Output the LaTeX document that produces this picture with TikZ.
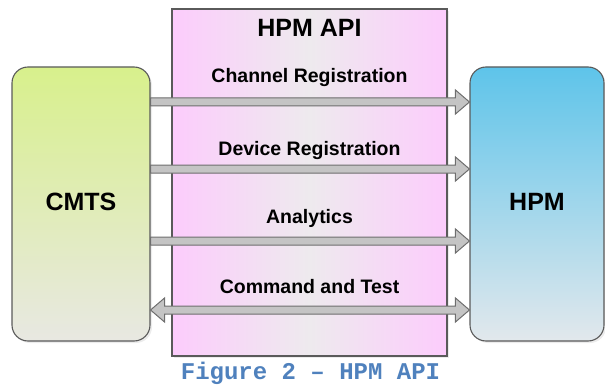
\documentclass[tikz,border=0pt]{standalone}
\usepackage{fontspec}
\setmainfont{Liberation Sans}
\newfontfamily\capfont{Liberation Mono}
\usetikzlibrary{calc,shadows}
\definecolor{cmtstop}{RGB}{216,240,140}
\definecolor{cmtsbot}{RGB}{232,232,226}
\definecolor{hpmtop}{RGB}{94,196,234}
\definecolor{hpmbot}{RGB}{226,232,236}
\definecolor{pinkedge}{RGB}{252,204,252}
\definecolor{pinkmid}{RGB}{238,234,238}
\definecolor{bordergray}{RGB}{90,90,90}
\definecolor{arrfill}{RGB}{196,196,196}
\definecolor{arrline}{RGB}{110,110,110}
\definecolor{capblue}{RGB}{79,129,189}
\tikzset{
  apibox/.style={draw=bordergray, line width=1.1pt, left color=pinkedge, right color=pinkedge, middle color=pinkmid,
    drop shadow={shadow xshift=2pt, shadow yshift=-2pt, opacity=0.15, fill=gray}},
  endbox/.style={draw=bordergray, line width=1.1pt, rounded corners=16pt,
    drop shadow={shadow xshift=2pt, shadow yshift=-2pt, opacity=0.15, fill=gray}},
  lbl/.style={font=\bfseries\fontsize{19.5}{22}\selectfont, inner sep=0pt, anchor=base},
  big/.style={font=\bfseries\fontsize{25}{28}\selectfont, inner sep=0pt, anchor=base},
  arr/.style={fill=arrfill, draw=arrline, line width=1pt, line join=miter},
}
\begin{document}
\begin{tikzpicture}[x=1pt,y=-1pt]
\useasboundingbox (0,0) rectangle (605,385);
% boxes
\node[apibox, minimum width=275pt, minimum height=347pt, inner sep=0pt] (api) at (309.5,182.5) {};
\node[endbox, top color=cmtstop, bottom color=cmtsbot, minimum width=138pt, minimum height=274pt, inner sep=0pt] (cmts) at (81,204) {};
\node[endbox, top color=hpmtop, bottom color=hpmbot, minimum width=134pt, minimum height=274pt, inner sep=0pt] (hpm) at (537,204) {};
% texts
\node[big] (tapi) at (309.5,37) {HPM API};
\node[big] (tcmts) at (81,210) {CMTS};
\node[big] (thpm) at (537,210) {HPM};
\node[lbl] (l1) at (309.5,83) {Channel Registration};
\node[lbl] (l2) at (309.5,155) {Device Registration};
\node[lbl] (l3) at (309.5,223) {Analytics};
\node[lbl] (l4) at (309.5,293) {Command and Test};
% arrow levels
\coordinate (y1) at (0,102);
\coordinate (y2) at (0,169);
\coordinate (y3) at (0,241);
\coordinate (y4) at (0,310);
\foreach \i in {1,2,3}{
  \coordinate (a) at (cmts.east |- y\i);
  \coordinate (b) at (hpm.west |- y\i);
  \filldraw[arr] ($(a)+(0,-4)$) -- ($(b)+(-14,-4)$) -- ($(b)+(-14,-12)$) -- (b)
    -- ($(b)+(-14,12)$) -- ($(b)+(-14,4)$) -- ($(a)+(0,4)$) -- cycle;
}
\coordinate (a) at (cmts.east |- y4);
\coordinate (b) at (hpm.west |- y4);
\filldraw[arr] (a) -- ($(a)+(14,-12)$) -- ($(a)+(14,-4)$) -- ($(b)+(-14,-4)$) -- ($(b)+(-14,-12)$) -- (b)
  -- ($(b)+(-14,12)$) -- ($(b)+(-14,4)$) -- ($(a)+(14,4)$) -- ($(a)+(14,12)$) -- cycle;
% caption
\node[font=\capfont\bfseries\fontsize{24}{26}\selectfont, text=capblue, inner sep=0pt, anchor=base] (cap) at (310.5,379) {Figure 2 – HPM API};
\end{tikzpicture}
\end{document}
